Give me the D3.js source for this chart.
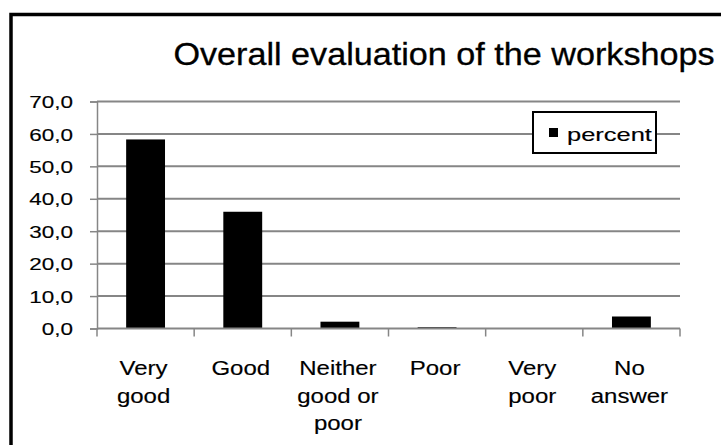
<!DOCTYPE html>
<html>
<head>
<meta charset="utf-8">
<script src="https://cdn.jsdelivr.net/npm/d3@7"></script>
<style>
  body { margin: 0; background: #fff; }
  text { font-family: "Liberation Sans", Arial, sans-serif; fill: #000; stroke: #000; stroke-width: 0.15px; }
</style>
</head>
<body>
<div id="chart"></div>
<script>
// Data
const categories = ["Very good", "Good", "Neither good or poor", "Poor", "Very poor", "No answer"];
const categoryLines = [["Very", "good"], ["Good"], ["Neither", "good or", "poor"], ["Poor"], ["Very", "poor"], ["No", "answer"]];
const percent = [58.3, 36.0, 2.1, 0.4, 0.0, 3.7];
const yTicks = [0, 10, 20, 30, 40, 50, 60, 70];
const seriesName = "percent";
const title = "Overall evaluation of the workshops";

// Dimensions
const owidth = 721, oheight = 445;
const margin = { top: 101.5, right: 41, bottom: 116.5, left: 97 };
const width = owidth - margin.left - margin.right;
const height = oheight - margin.top - margin.bottom;

const svg = d3.select("#chart").append("svg")
  .attr("width", owidth)
  .attr("height", oheight);

// Outer frame (runs off the right and bottom edges)
svg.append("rect")
  .attr("x", 11).attr("y", 14.5)
  .attr("width", 800).attr("height", 500)
  .attr("fill", "none").attr("stroke", "#000").attr("stroke-width", 3.5);

// stretch text horizontally to mimic the wide rendering
function stretch(sel, f) {
  sel.each(function() {
    const len = this.getComputedTextLength();
    d3.select(this).attr("textLength", len * f).attr("lengthAdjust", "spacingAndGlyphs");
  });
}

svg.append("text")
  .attr("x", 444).attr("y", 65)
  .attr("text-anchor", "middle")
  .attr("font-size", 30.5)
  .style("stroke-width", "0.3px")
  .text(title)
  .call(stretch, 1.12);

const canvas = svg.append("g")
  .attr("transform", `translate(${margin.left}, ${margin.top})`);

// Scales
const xSc = d3.scaleBand().domain(categories).range([0, width]).padding(0);
const ySc = d3.scaleLinear().domain([0, 70]).range([height, 0]);

const fmt = d3.formatLocale({ decimal: ",", thousands: ".", grouping: [3], currency: ["", ""] }).format(".1f");

// Gridlines
canvas.append("g")
  .selectAll("line")
  .data(yTicks.filter(d => d > 0))
  .join("line")
  .attr("x1", 0).attr("x2", width)
  .attr("y1", d => ySc(d)).attr("y2", d => ySc(d))
  .attr("stroke", "#868686").attr("stroke-width", 2);

// Y axis
const yAxis = canvas.append("g")
  .call(d3.axisLeft(ySc).tickValues(yTicks).tickSize(7).tickPadding(0).tickFormat(fmt));
yAxis.select(".domain").attr("stroke", "#868686").attr("stroke-width", 1.5);
yAxis.selectAll(".tick line").attr("stroke", "#868686").attr("stroke-width", 1.5);
yAxis.selectAll(".tick text")
  .attr("x", -24).attr("dy", "0.36em")
  .attr("font-size", 17)
  .attr("font-family", "Liberation Sans, Arial, sans-serif")
  .call(stretch, 1.32);

// Bars
const barW = xSc.bandwidth() * 0.4;
canvas.append("g")
  .selectAll("rect")
  .data(percent)
  .join("rect")
  .attr("x", (d, i) => xSc(categories[i]) + (xSc.bandwidth() - barW) / 2)
  .attr("y", d => ySc(d))
  .attr("width", barW)
  .attr("height", d => height - ySc(d))
  .attr("fill", "#000");

// X axis line + boundary ticks
const xg = canvas.append("g").attr("transform", `translate(0, ${height})`);
xg.append("line")
  .attr("x1", 0).attr("x2", width)
  .attr("stroke", "#868686").attr("stroke-width", 2);
xg.selectAll("line.tk")
  .data(categories.map(c => xSc(c)).concat([width]))
  .join("line")
  .attr("class", "tk")
  .attr("x1", d => d).attr("x2", d => d)
  .attr("y1", 0).attr("y2", 8)
  .attr("stroke", "#868686").attr("stroke-width", 1.5);

// Category labels
const lab = xg.selectAll("g.lab")
  .data(categories)
  .join("g")
  .attr("class", "lab")
  .attr("transform", d => `translate(${xSc(d) + xSc.bandwidth() / 2 - 2}, 0)`);
lab.selectAll("text")
  .data((d, i) => categoryLines[i])
  .join("text")
  .attr("text-anchor", "middle")
  .attr("y", (d, i) => 46.5 + i * 27.5)
  .attr("font-size", 20)
  .text(d => d)
  .call(stretch, 1.2);

// Legend
const lg = svg.append("g").attr("transform", "translate(533, 112)");
lg.append("rect")
  .attr("width", 123).attr("height", 41)
  .attr("fill", "#fff").attr("stroke", "#000").attr("stroke-width", 2);
lg.append("rect")
  .attr("x", 16).attr("y", 16)
  .attr("width", 9).attr("height", 9)
  .attr("fill", "#000");
lg.append("text")
  .attr("x", 34).attr("y", 29)
  .attr("font-size", 19)
  .text(seriesName)
  .call(stretch, 1.34);
</script>
</body>
</html>
